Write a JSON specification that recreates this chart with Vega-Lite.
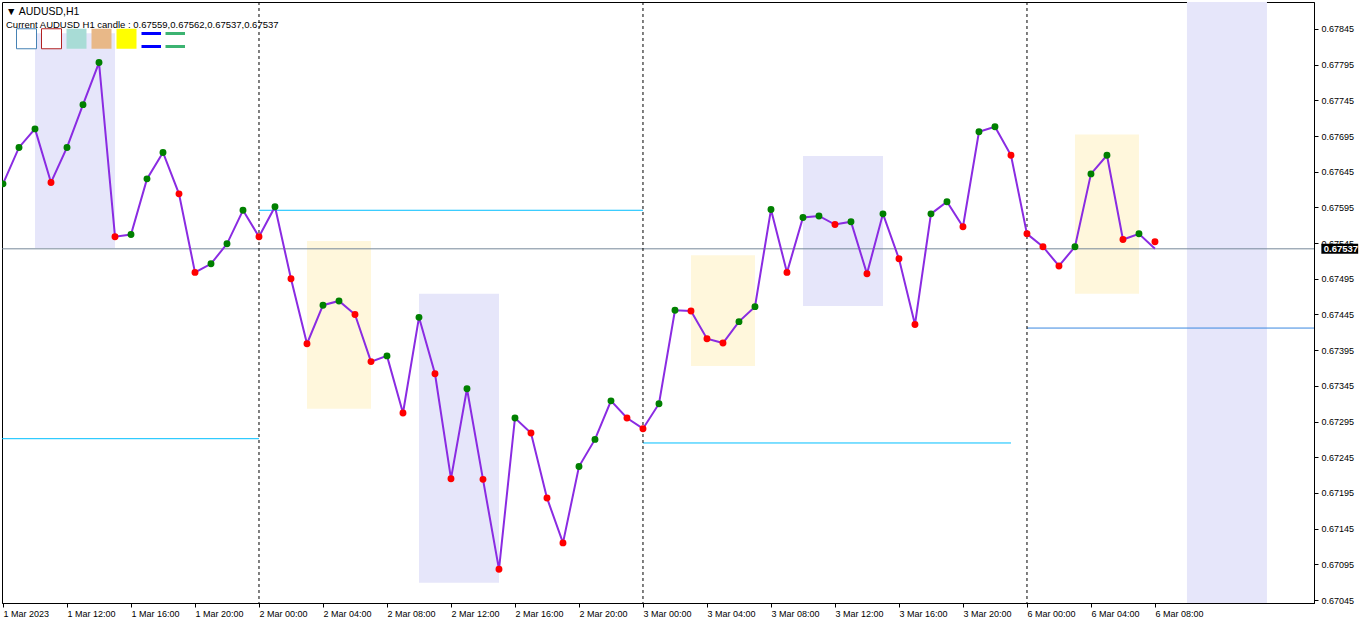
{
  "$schema": "https://vega.github.io/schema/vega-lite/v6.json",
  "width": 1312,
  "height": 601,
  "padding": {"left": 2, "top": 2, "right": 0, "bottom": 0},
  "background": "white",
  "title": {
    "text": "▼ AUDUSD,H1",
    "subtitle": "Current AUDUSD H1 candle : 0.67559,0.67562,0.67537,0.67537",
    "anchor": "start",
    "frame": "group",
    "orient": "top",
    "offset": -27,
    "dx": 4,
    "font": "Liberation Sans",
    "fontSize": 10.5,
    "fontWeight": "normal",
    "color": "black",
    "subtitleFont": "Liberation Sans",
    "subtitleFontSize": 9.5,
    "subtitleColor": "black",
    "subtitlePadding": 2
  },
  "datasets": {
    "bars": [
      {"i":0,"close":0.67628,"dot":0.67628,"dir":"up"},
      {"i":1,"close":0.67679,"dot":0.67679,"dir":"up"},
      {"i":2,"close":0.67705,"dot":0.67705,"dir":"up"},
      {"i":3,"close":0.67630,"dot":0.67630,"dir":"down"},
      {"i":4,"close":0.67679,"dot":0.67679,"dir":"up"},
      {"i":5,"close":0.67739,"dot":0.67739,"dir":"up"},
      {"i":6,"close":0.67798,"dot":0.67798,"dir":"up"},
      {"i":7,"close":0.67554,"dot":0.67554,"dir":"down"},
      {"i":8,"close":0.67557,"dot":0.67557,"dir":"up"},
      {"i":9,"close":0.67635,"dot":0.67635,"dir":"up"},
      {"i":10,"close":0.67672,"dot":0.67672,"dir":"up"},
      {"i":11,"close":0.67614,"dot":0.67614,"dir":"down"},
      {"i":12,"close":0.67504,"dot":0.67504,"dir":"down"},
      {"i":13,"close":0.67516,"dot":0.67516,"dir":"up"},
      {"i":14,"close":0.67544,"dot":0.67544,"dir":"up"},
      {"i":15,"close":0.67591,"dot":0.67591,"dir":"up"},
      {"i":16,"close":0.67554,"dot":0.67554,"dir":"down"},
      {"i":17,"close":0.67596,"dot":0.67596,"dir":"up"},
      {"i":18,"close":0.67495,"dot":0.67495,"dir":"down"},
      {"i":19,"close":0.67404,"dot":0.67404,"dir":"down"},
      {"i":20,"close":0.67458,"dot":0.67458,"dir":"up"},
      {"i":21,"close":0.67464,"dot":0.67464,"dir":"up"},
      {"i":22,"close":0.67445,"dot":0.67445,"dir":"down"},
      {"i":23,"close":0.67379,"dot":0.67379,"dir":"down"},
      {"i":24,"close":0.67387,"dot":0.67387,"dir":"up"},
      {"i":25,"close":0.67307,"dot":0.67307,"dir":"down"},
      {"i":26,"close":0.67441,"dot":0.67441,"dir":"up"},
      {"i":27,"close":0.67362,"dot":0.67362,"dir":"down"},
      {"i":28,"close":0.67215,"dot":0.67215,"dir":"down"},
      {"i":29,"close":0.67341,"dot":0.67341,"dir":"up"},
      {"i":30,"close":0.67214,"dot":0.67214,"dir":"down"},
      {"i":31,"close":0.67088,"dot":0.67088,"dir":"down"},
      {"i":32,"close":0.67300,"dot":0.67300,"dir":"up"},
      {"i":33,"close":0.67279,"dot":0.67279,"dir":"down"},
      {"i":34,"close":0.67188,"dot":0.67188,"dir":"down"},
      {"i":35,"close":0.67125,"dot":0.67125,"dir":"down"},
      {"i":36,"close":0.67232,"dot":0.67232,"dir":"up"},
      {"i":37,"close":0.67270,"dot":0.67270,"dir":"up"},
      {"i":38,"close":0.67324,"dot":0.67324,"dir":"up"},
      {"i":39,"close":0.67300,"dot":0.67300,"dir":"down"},
      {"i":40,"close":0.67285,"dot":0.67285,"dir":"down"},
      {"i":41,"close":0.67320,"dot":0.67320,"dir":"up"},
      {"i":42,"close":0.67451,"dot":0.67451,"dir":"up"},
      {"i":43,"close":0.67450,"dot":0.67450,"dir":"down"},
      {"i":44,"close":0.67411,"dot":0.67411,"dir":"down"},
      {"i":45,"close":0.67405,"dot":0.67405,"dir":"down"},
      {"i":46,"close":0.67435,"dot":0.67435,"dir":"up"},
      {"i":47,"close":0.67456,"dot":0.67456,"dir":"up"},
      {"i":48,"close":0.67592,"dot":0.67592,"dir":"up"},
      {"i":49,"close":0.67504,"dot":0.67504,"dir":"down"},
      {"i":50,"close":0.67581,"dot":0.67581,"dir":"up"},
      {"i":51,"close":0.67583,"dot":0.67583,"dir":"up"},
      {"i":52,"close":0.67571,"dot":0.67571,"dir":"down"},
      {"i":53,"close":0.67575,"dot":0.67575,"dir":"up"},
      {"i":54,"close":0.67502,"dot":0.67502,"dir":"down"},
      {"i":55,"close":0.67586,"dot":0.67586,"dir":"up"},
      {"i":56,"close":0.67523,"dot":0.67523,"dir":"down"},
      {"i":57,"close":0.67431,"dot":0.67431,"dir":"down"},
      {"i":58,"close":0.67586,"dot":0.67586,"dir":"up"},
      {"i":59,"close":0.67603,"dot":0.67603,"dir":"up"},
      {"i":60,"close":0.67568,"dot":0.67568,"dir":"down"},
      {"i":61,"close":0.67701,"dot":0.67701,"dir":"up"},
      {"i":62,"close":0.67708,"dot":0.67708,"dir":"up"},
      {"i":63,"close":0.67668,"dot":0.67668,"dir":"down"},
      {"i":64,"close":0.67558,"dot":0.67558,"dir":"down"},
      {"i":65,"close":0.67540,"dot":0.67540,"dir":"down"},
      {"i":66,"close":0.67513,"dot":0.67513,"dir":"down"},
      {"i":67,"close":0.67540,"dot":0.67540,"dir":"up"},
      {"i":68,"close":0.67642,"dot":0.67642,"dir":"up"},
      {"i":69,"close":0.67668,"dot":0.67668,"dir":"up"},
      {"i":70,"close":0.67550,"dot":0.67550,"dir":"down"},
      {"i":71,"close":0.67558,"dot":0.67558,"dir":"up"},
      {"i":72,"close":0.67537,"dot":0.67547,"dir":"down"}
    ],
    "zones": [
      {"i1":2,"i2":7,"hi":0.67839,"lo":0.67538,"kind":"range"},
      {"i1":19,"i2":23,"hi":0.67548,"lo":0.67313,"kind":"box"},
      {"i1":26,"i2":31,"hi":0.67474,"lo":0.67069,"kind":"range"},
      {"i1":43,"i2":47,"hi":0.67528,"lo":0.67373,"kind":"box"},
      {"i1":50,"i2":55,"hi":0.67667,"lo":0.67457,"kind":"range"},
      {"i1":67,"i2":71,"hi":0.67697,"lo":0.67474,"kind":"box"},
      {"i1":74,"i2":79,"hi":0.6795,"lo":0.6695,"kind":"range"}
    ],
    "levels": [
      {"i1":-0.0625,"i2":16,"p":0.67271,"kind":"a"},
      {"i1":16,"i2":40,"p":0.67591,"kind":"a"},
      {"i1":40,"i2":63,"p":0.67265,"kind":"a"},
      {"i1":64,"i2":81.94,"p":0.67426,"kind":"b"}
    ],
    "days": [{"i":16},{"i":40},{"i":64}],
    "price": [{"p":0.67537,"label":"0.67537"}],
    "keys": [{"k":"k1"},{"k":"k2"},{"k":"k3"},{"k":"k4"},{"k":"k5"},{"k":"k6"},{"k":"k7"}]
  },
  "encoding": {
    "x": {
      "type": "quantitative",
      "scale": {"domain": [-0.0625, 81.94], "nice": false, "zero": false},
      "axis": {
        "orient": "bottom",
        "title": null,
        "grid": false,
        "values": [0,4,8,12,16,20,24,28,32,36,40,44,48,52,56,60,64,68,72],
        "labelExpr": "['1 Mar 2023','1 Mar 12:00','1 Mar 16:00','1 Mar 20:00','2 Mar 00:00','2 Mar 04:00','2 Mar 08:00','2 Mar 12:00','2 Mar 16:00','2 Mar 20:00','3 Mar 00:00','3 Mar 04:00','3 Mar 08:00','3 Mar 12:00','3 Mar 16:00','3 Mar 20:00','6 Mar 00:00','6 Mar 04:00','6 Mar 08:00'][round(datum.value/4)]",
        "labelAlign": "left",
        "labelFlush": false,
        "labelOverlap": false,
        "labelPadding": 2,
        "labelDx": 1,
        "tickSize": 4,
        "tickColor": "black",
        "domainColor": "black",
        "labelColor": "black",
        "labelFont": "Liberation Sans",
        "labelFontSize": 9
      }
    },
    "y": {
      "type": "quantitative",
      "scale": {"domain": [0.670408, 0.678828], "nice": false, "zero": false},
      "axis": {
        "orient": "right",
        "title": null,
        "grid": false,
        "values": [0.67045,0.67095,0.67145,0.67195,0.67245,0.67295,0.67345,0.67395,0.67445,0.67495,0.67545,0.67595,0.67645,0.67695,0.67745,0.67795,0.67845],
        "format": ".5f",
        "labelAlign": "left",
        "labelPadding": 3,
        "labelOverlap": false,
        "labelFlush": false,
        "tickSize": 4,
        "tickColor": "black",
        "domainColor": "black",
        "labelColor": "black",
        "labelFont": "Liberation Sans",
        "labelFontSize": 9
      }
    }
  },
  "layer": [
    {
      "data": {"name": "zones"},
      "transform": [{"filter": "datum.kind === 'range'"}],
      "mark": {"type": "rect", "clip": true, "color": "#e6e6fa"},
      "encoding": {
        "x": {"field": "i1"},
        "x2": {"field": "i2"},
        "y": {"field": "hi"},
        "y2": {"field": "lo"}
      }
    },
    {
      "data": {"name": "zones"},
      "transform": [{"filter": "datum.kind === 'box'"}],
      "mark": {"type": "rect", "clip": true, "color": "#fff7dc"},
      "encoding": {
        "x": {"field": "i1"},
        "x2": {"field": "i2"},
        "y": {"field": "hi"},
        "y2": {"field": "lo"}
      }
    },
    {
      "data": {"name": "levels"},
      "transform": [{"filter": "datum.kind === 'a'"}],
      "mark": {"type": "rule", "strokeWidth": 1, "clip": true, "color": "#00bfff"},
      "encoding": {
        "x": {"field": "i1"},
        "x2": {"field": "i2"},
        "y": {"field": "p"}
      }
    },
    {
      "data": {"name": "levels"},
      "transform": [{"filter": "datum.kind === 'b'"}],
      "mark": {"type": "rule", "strokeWidth": 1, "clip": true, "color": "#3a88e0"},
      "encoding": {
        "x": {"field": "i1"},
        "x2": {"field": "i2"},
        "y": {"field": "p"}
      }
    },
    {
      "data": {"name": "price"},
      "mark": {"type": "rule", "color": "#778899", "strokeWidth": 1, "clip": true},
      "encoding": {"y": {"field": "p"}}
    },
    {
      "data": {"name": "days"},
      "mark": {"type": "rule", "color": "black", "strokeWidth": 1, "strokeDash": [3, 3], "clip": true},
      "encoding": {"x": {"field": "i"}}
    },
    {
      "data": {"name": "bars"},
      "mark": {"type": "line", "color": "#8a2be2", "strokeWidth": 2, "clip": true},
      "encoding": {"x": {"field": "i"}, "y": {"field": "close"}}
    },
    {
      "data": {"name": "bars"},
      "mark": {"type": "point", "filled": true, "opacity": 1, "size": 48, "clip": true},
      "encoding": {
        "x": {"field": "i"},
        "y": {"field": "dot"},
        "color": {"field": "dir", "type": "nominal", "legend": null,
          "scale": {"domain": ["up", "down"], "range": ["#008000", "#ff0000"]}}
      }
    },
    {
      "data": {"name": "keys"},
      "mark": {"type": "point", "opacity": 0, "filled": true, "clip": true},
      "encoding": {
        "x": {"datum": 0},
        "y": {"datum": 0.671},
        "fill": {"field": "k", "type": "nominal",
          "scale": {"domain": ["k1","k2","k3","k4","k5","k6","k7"],
            "range": ["#ffffff", "#ffffff", "#a8dcd6", "#e8b888", "#ffff00", "#0000ff", "#3cb371"]},
          "legend": {"orient": "none", "legendX": 14, "legendY": 26, "direction": "horizontal", "columns": 7, "title": null, "symbolSize": 400, "symbolStrokeWidth": 1, "symbolOpacity": 1, "labelExpr": "''", "labelOffset": 0, "labelFontSize": 1, "columnPadding": 0, "padding": 0, "rowPadding": 0}
        },
        "stroke": {"field": "k", "type": "nominal",
          "scale": {"domain": ["k1","k2","k3","k4","k5","k6","k7"],
            "range": ["#4682b4", "#b22222", "transparent", "transparent", "transparent", "transparent", "transparent"]},
          "legend": {"orient": "none", "legendX": 14, "legendY": 26, "direction": "horizontal", "columns": 7, "title": null, "symbolSize": 400, "symbolStrokeWidth": 1, "symbolOpacity": 1, "labelExpr": "''", "labelOffset": 0, "labelFontSize": 1, "columnPadding": 0, "padding": 0, "rowPadding": 0}
        },
        "shape": {"field": "k", "type": "nominal",
          "scale": {"domain": ["k1","k2","k3","k4","k5","k6","k7"],
            "range": ["square", "square", "square", "square", "square", "M-1,-0.75H0.95V-0.45H-1Z M-1,0.55H0.95V0.85H-1Z", "M-1,-0.75H0.95V-0.45H-1Z M-1,0.55H0.95V0.85H-1Z"]},
          "legend": {"orient": "none", "legendX": 14, "legendY": 26, "direction": "horizontal", "columns": 7, "title": null, "symbolSize": 400, "symbolStrokeWidth": 1, "symbolOpacity": 1, "labelExpr": "''", "labelOffset": 0, "labelFontSize": 1, "columnPadding": 0, "padding": 0, "rowPadding": 0}
        }
      }
    },
    {
      "data": {"name": "price"},
      "mark": {"type": "rect", "color": "black"},
      "encoding": {
        "x": {"datum": 82.4},
        "x2": {"datum": 84.7},
        "y": {"datum": 0.67544},
        "y2": {"datum": 0.67530}
      }
    },
    {
      "data": {"name": "price"},
      "mark": {"type": "text", "color": "white", "align": "left", "baseline": "middle", "font": "Liberation Sans", "fontSize": 9.5, "fontWeight": "bold"},
      "encoding": {
        "x": {"datum": 82.55},
        "y": {"field": "p"},
        "text": {"field": "label"}
      }
    }
  ],
  "config": {
    "view": {"stroke": "black", "strokeWidth": 1},
    "axis": {"labelFont": "Liberation Sans"},
    "legend": {"symbolType": "square"}
  }
}
